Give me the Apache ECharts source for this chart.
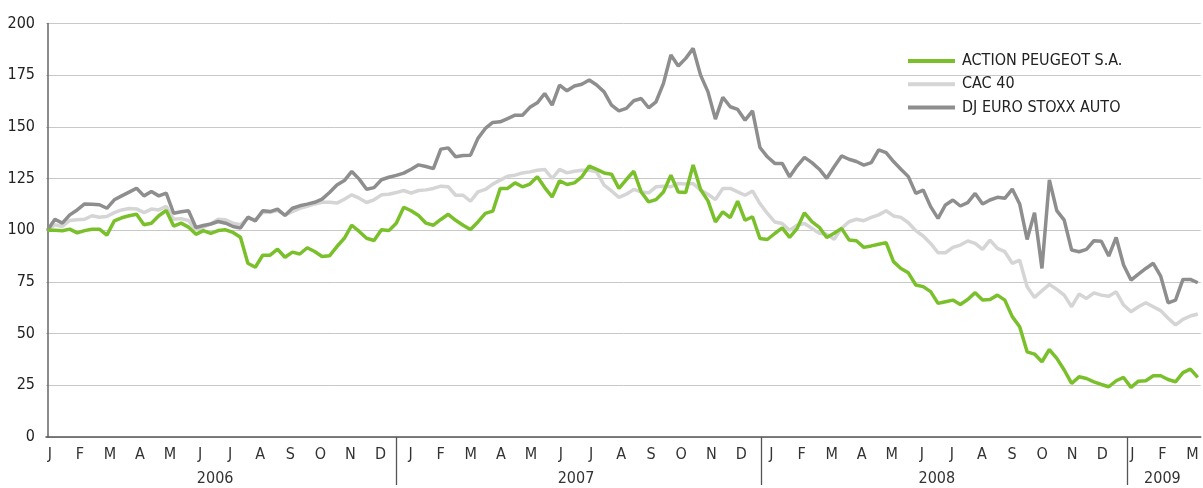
<!DOCTYPE html>
<html>
<head>
<meta charset="utf-8">
<script src="https://cdn.jsdelivr.net/npm/echarts@6/dist/echarts.min.js"></script>
<style>
html,body{margin:0;padding:0;background:#fff;}
#chart{width:1203px;height:488px;}
</style>
</head>
<body>
<div id="chart"></div>
<script>
// ---- Data (weekly index values, base 100) ----
const years = ['2006', '2007', '2008', '2009'];
const monthLetters = ['J', 'F', 'M', 'A', 'M', 'J', 'J', 'A', 'S', 'O', 'N', 'D'];
const monthsInYear = [12, 12, 12, 3];
const yTicks = [0, 25, 50, 75, 100, 125, 150, 175, 200];

const peugeot = [
  100, 100, 99.7, 100.5, 98.7, 99.8, 100.5, 100.5, 97.6, 104.5,
  106, 107, 107.7, 102.6, 103.4, 107, 109.5, 102, 103.4, 101.5,
  98, 99.8, 98.5, 99.8, 100.2, 98.9, 96.6, 84, 82.1, 87.9,
  87.9, 90.8, 86.9, 89.4, 88.5, 91.5, 89.7, 87.3, 87.6, 92.1,
  96.1, 102.4, 99.4, 96.1, 95, 100.2, 99.8, 103.4, 111.1, 109.4,
  107.1, 103.4, 102.4, 105.2, 107.7, 104.8, 102.4, 100.3, 104, 108.1,
  109.2, 120.2, 120.2, 122.9, 121, 122.3, 125.8, 120.6, 116.1, 123.9,
  122.1, 122.9, 125.8, 131, 129.4, 127.7, 127.1, 120.2, 124.5, 128.5,
  118.5, 113.7, 114.8, 118.5, 126.6, 118.5, 118.2, 131.5, 119.7, 114.2,
  104, 108.9, 106.1, 114, 104.8, 106.5, 96, 95.5, 98.4, 101.1,
  96.5, 100.8, 108.4, 104.1, 101.4, 96.5, 98.5, 100.9, 95.3, 94.9,
  91.7, 92.4, 93.2, 94, 84.8, 81.5, 79.4, 73.5, 72.7, 70.3,
  64.6, 65.4, 66.2, 64.1, 66.5, 69.8, 66.2, 66.5, 68.6, 66.2,
  58.2, 53.3, 41.2, 40.1, 36.4, 42.3, 38, 32.4, 25.9, 29.1,
  28.3, 26.7, 25.4, 24.3, 27.2, 28.8, 24, 27, 27.2, 29.6,
  29.6, 27.8, 26.7, 31.1, 32.8, 28.8
];

const cac40 = [
  100, 102.6, 101.8, 104.7, 105, 105.3, 107, 106.3, 106.6, 108.5,
  109.8, 110.5, 110.3, 108.5, 110.2, 109.8, 111.5, 105.3, 105.6, 104.7,
  100.2, 101.5, 103, 105.3, 105, 103.4, 102.6, 105.8, 105, 108.5,
  108.7, 109.5, 107.4, 109, 110.6, 111.5, 112.7, 113.5, 113.5, 113.1,
  115, 117.1, 115.5, 113.4, 114.7, 117.1, 117.4, 118.2, 119.2, 117.9,
  119.2, 119.5, 120.2, 121.3, 121, 116.9, 116.9, 114, 118.5, 119.7,
  122.3, 124.2, 126.1, 126.6, 127.7, 128.2, 129, 129.4, 125, 129.4,
  127.7, 128.5, 129, 129, 128.2, 121.8, 119, 115.8, 117.4, 119.7,
  118.5, 118.1, 121, 121.3, 121, 122.6, 122.3, 122.6, 119.4, 117.4,
  114.8, 120.2, 120.2, 118.5, 116.9, 119, 112.9, 108.1, 104, 103.2,
  100, 102.4, 103.2, 100.9, 98.5, 98, 95.6, 100.9, 104.1, 105.3,
  104.6, 106.2, 107.4, 109.4, 106.9, 106.2, 103.6, 99.8, 97.2, 93.6,
  89.1, 89.1, 91.7, 92.8, 94.8, 93.6, 90.7, 95.2, 91.2, 89.6,
  84, 85.5, 72.7, 67.5, 70.7, 73.8, 71.4, 68.6, 63, 69.1,
  67, 69.7, 68.6, 68.1, 70.2, 63.8, 60.6, 63, 64.9, 63,
  61.1, 57.4, 54.2, 56.9, 58.5, 59.5
];

const stoxxAuto = [
  100, 105.3, 103.4, 107.4, 109.8, 112.7, 112.6, 112.3, 110.6, 114.7,
  116.6, 118.4, 120.3, 116.6, 118.7, 116.6, 117.9, 108.2, 108.9, 109.4,
  101.3, 102.3, 103, 104.2, 103.4, 101.8, 101, 106.3, 104.5, 109.4,
  109, 110.2, 107.1, 110.6, 111.8, 112.6, 113.5, 115, 118.2, 121.9,
  124, 128.4, 124.7, 119.8, 120.6, 124.4, 125.6, 126.5, 127.6, 129.5,
  131.6, 130.8, 129.8, 139.2, 139.8, 135.5, 136.1, 136.3, 144.4, 149.2,
  152.1, 152.4, 154, 155.6, 155.6, 159.4, 161.6, 166.1, 160.5, 170.2,
  167.4, 169.7, 170.6, 172.6, 170.2, 166.9, 160.5, 157.7, 158.9, 162.6,
  163.7, 159.2, 162.1, 171, 184.7, 179.4, 183.1, 187.9, 175, 166.9,
  153.7, 164.2, 159.7, 158.4, 153.2, 157.7, 140, 135.5, 132.3, 132.3,
  125.8, 131, 135.2, 132.7, 129.5, 125.1, 130.7, 135.9, 134.3, 133.2,
  131.5, 132.7, 138.8, 137.5, 133.2, 129.5, 125.9, 117.8, 119.4, 111.4,
  105.7, 112.2, 114.6, 111.7, 113.3, 117.8, 112.7, 114.6, 115.9, 115.4,
  119.9, 112.7, 95.5, 108.5, 81.5, 124.3, 109.5, 104.9, 90.4, 89.6,
  90.7, 94.9, 94.7, 87.5, 96.5, 83.2, 75.9, 78.8, 81.5, 84,
  77.8, 64.9, 66.2, 76.2, 76.2, 74.6
];

const seriesNames = ['ACTION PEUGEOT S.A.', 'CAC 40', 'DJ EURO STOXX AUTO'];

// ---- Derived axis helpers ----
const monthCats = [];
const yearCenters = {};
years.forEach((y, yi) => {
  const start = monthCats.length;
  for (let m = 0; m < monthsInYear[yi]; m++) monthCats.push(monthLetters[m]);
  yearCenters[start + monthsInYear[yi] / 2] = y;
});

const FONT = "'Liberation Sans Narrow','DejaVu Sans Condensed','Roboto Condensed','Arial Narrow',sans-serif";
const GREEN = '#79c02a', DARK = '#8e8e8e', LIGHT = '#d5d5d5';
const gridTop = 23.4, gridBottom = 51, gridLeft = 46, chartW = 1203;

// month scale: month band width (px) and the plot's starting month offset
const monthPx = 30.13;
const monthStep = 0.125;
const monthMin = 0.375;
const monthMax = monthMin + (chartW - gridLeft) / monthPx;

function monthLabel(v) {
  const h = Math.round(v * 2);
  if (Math.abs(v * 2 - h) > 1e-6 || h % 2 === 0) return '';
  const idx = (h - 1) / 2;
  return monthCats[idx] || '';
}
function yearLabel(v) {
  const k = Math.round(v * 8) / 8;
  if (Math.abs(v - k) > 1e-6) return '';
  return yearCenters[k] || '';
}

const toPairs = arr => arr.map((v, i) => [i, v]);

const chart = echarts.init(document.getElementById('chart'), null, {renderer: 'canvas'});
chart.setOption({
  animation: false,
  backgroundColor: '#fff',
  grid: [
    {left: gridLeft, right: 0, top: gridTop, bottom: gridBottom},
    {left: 396, right: 76, top: gridTop, bottom: gridBottom}
  ],
  legend: {
    data: seriesNames,
    orient: 'vertical',
    left: 903,
    top: 48,
    icon: 'rect',
    itemWidth: 47,
    itemHeight: 4,
    itemGap: 7.3,
    selectedMode: false,
    textStyle: {fontFamily: FONT, fontSize: 16, color: '#222', lineHeight: 16, padding: [0, 0, 0, 2]}
  },
  xAxis: [
    {
      gridIndex: 0, type: 'value', min: -0.2, max: peugeot.length - 1 + 0.4,
      position: 'bottom',
      axisLine: {show: true, onZero: false, lineStyle: {color: '#555', width: 1.5}},
      axisTick: {show: false}, axisLabel: {show: false}, splitLine: {show: false}
    },
    {
      gridIndex: 0, type: 'value', min: monthMin, max: monthMax, interval: monthStep,
      position: 'bottom',
      axisLine: {show: false}, axisTick: {show: false}, splitLine: {show: false},
      axisLabel: {margin: 10, fontFamily: FONT, fontSize: 16, color: '#333',
        showMinLabel: false, showMaxLabel: false, formatter: monthLabel}
    },
    {
      gridIndex: 0, type: 'value', min: monthMin, max: monthMax, interval: monthStep,
      position: 'bottom',
      axisLine: {show: false}, axisTick: {show: false}, splitLine: {show: false},
      axisLabel: {margin: 34, fontFamily: FONT, fontSize: 16, color: '#333',
        showMinLabel: false, showMaxLabel: false, formatter: yearLabel}
    },
    {
      gridIndex: 1, type: 'value', min: 0, max: 2, interval: 1,
      position: 'bottom',
      axisLine: {show: false}, axisLabel: {show: false}, splitLine: {show: false},
      axisTick: {show: true, length: 48, lineStyle: {color: '#555', width: 1.3}}
    }
  ],
  yAxis: [
    {
      gridIndex: 0, type: 'value', min: yTicks[0], max: yTicks[yTicks.length - 1], interval: 25,
      axisLine: {show: true, lineStyle: {color: '#666', width: 1.5}},
      axisTick: {show: false},
      axisLabel: {margin: 11, fontFamily: FONT, fontSize: 16, color: '#222'},
      splitLine: {show: true, lineStyle: {color: '#c8c8c8', width: 1}}
    },
    {gridIndex: 1, type: 'value', show: false, min: 0, max: 1}
  ],
  series: [
    {
      name: seriesNames[1], type: 'line', xAxisIndex: 0, yAxisIndex: 0,
      data: toPairs(cac40), showSymbol: false, symbol: 'none',
      lineStyle: {color: LIGHT, width: 3.5}, itemStyle: {color: LIGHT}, z: 2
    },
    {
      name: seriesNames[2], type: 'line', xAxisIndex: 0, yAxisIndex: 0,
      data: toPairs(stoxxAuto), showSymbol: false, symbol: 'none',
      lineStyle: {color: DARK, width: 3.5}, itemStyle: {color: DARK}, z: 3
    },
    {
      name: seriesNames[0], type: 'line', xAxisIndex: 0, yAxisIndex: 0,
      data: toPairs(peugeot), showSymbol: false, symbol: 'none',
      lineStyle: {color: GREEN, width: 3.5}, itemStyle: {color: GREEN}, z: 4
    }
  ]
});
</script>
</body>
</html>
